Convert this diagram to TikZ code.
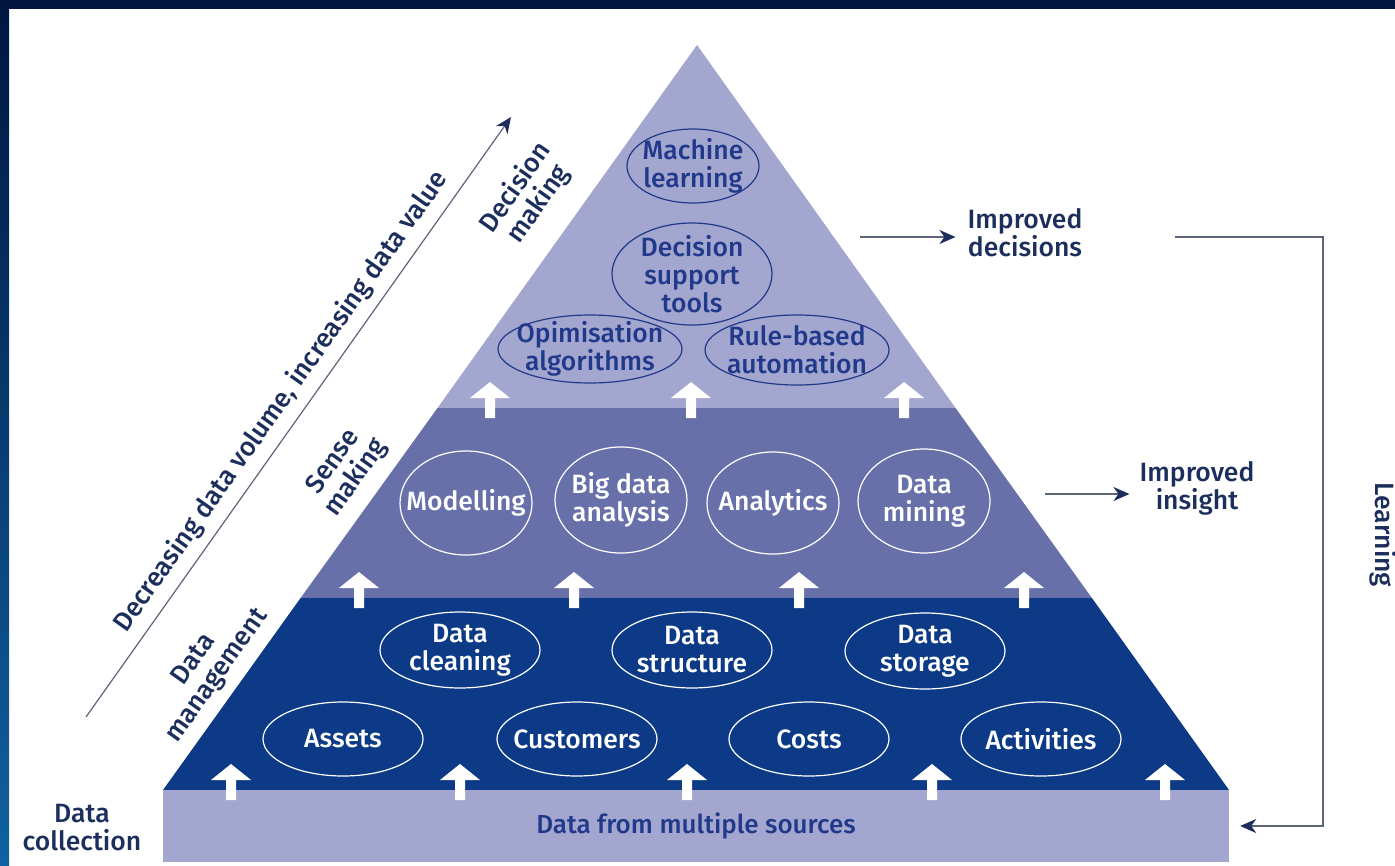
\documentclass[tikz,border=0pt]{standalone}
\usepackage{fontspec}
\setmainfont{Fira Sans}[UprightFont=* Medium]
\newfontfamily\labfont{Fira Sans}[UprightFont=* Medium]
\usetikzlibrary{shapes.geometric,arrows.meta,calc}
\definecolor{tierA}{HTML}{A3A6CF}
\definecolor{tierB}{HTML}{6870AA}
\definecolor{tierC}{HTML}{0C3A86}
\definecolor{navy}{HTML}{21398A}
\definecolor{lbl}{HTML}{1C2E5C}
\definecolor{linegray}{HTML}{5C6478}
\definecolor{framedark}{HTML}{001640}
\definecolor{frameblue}{HTML}{1062A0}
\begin{document}
\begin{tikzpicture}[x=1pt,y=-1pt,
  txt/.style={font=\labfont\fontsize{26.5}{28}\selectfont, align=center, inner sep=0pt},
  ovA/.style={ellipse, draw=navy, line width=1.2pt, inner sep=0pt},
  ovW/.style={ellipse, draw=white, line width=1.2pt, inner sep=0pt},
  tA/.style={txt, text=navy},
  tW/.style={txt, text=white},
  lab/.style={txt, text=lbl},
  conn/.style={draw=linegray, line width=1.4pt},
  navytip/.style={-{Stealth[length=16pt,width=14pt,inset=5pt,color=lbl]}},
  uparr/.pic={\fill[white] (-5,10) -- (-5,-10) -- (-20,-10) -- (0,-26) -- (20,-10) -- (5,-10) -- (5,10) -- cycle;}
]
\useasboundingbox (0,0) rectangle (1395,865);
\fill[white] (0,0) rectangle (1395,865);
% frame
\shade[top color=framedark, bottom color=frameblue] (0,0) rectangle (9,865);
\fill[framedark] (0,0) rectangle (1395,9);

% tiers
\fill[tierA] (697,45) -- (437.5,408) -- (955.5,408) -- cycle;
\fill[tierB] (437.5,408) -- (300.6,598) -- (1091.9,598) -- (955.5,408) -- cycle;
\fill[tierC] (300.6,598) -- (163,790) -- (1229,790) -- (1091.9,598) -- cycle;
\node[fill=tierA, minimum width=1066, minimum height=72, inner sep=0pt,
      font=\labfont\fontsize{26}{28}\selectfont, text=navy] (bar) at (696,826) {Data from multiple sources};

% up arrows
\foreach \x in {490,691,904} \pic at (\x,408) {uparr};
\foreach \x in {359,574,799,1024} \pic at (\x,598) {uparr};
\foreach \x in {231,460,687,932,1165} \pic at (\x,790) {uparr};

% decision making tier
\node[ovA, minimum width=132, minimum height=74, label={[tA]center:Machine\\learning}] (ml) at (693,166) {};
\node[ovA, minimum width=160, minimum height=102, label={[tA]center:Decision\\support\\tools}] (dst) at (692,274) {};
\node[ovA, minimum width=184, minimum height=68, label={[tA]center:Opimisation\\algorithms}] (opt) at (590,349) {};
\node[ovA, minimum width=184, minimum height=70, label={[tA]center:Rule-based\\automation}] (rba) at (797,350) {};

% sense making tier
\node[ovW, minimum width=132, minimum height=104, label={[tW]center:Modelling}] (mod) at (466,503) {};
\node[ovW, minimum width=132, minimum height=106, label={[tW]center:Big data\\analysis}] (bda) at (621,500) {};
\node[ovW, minimum width=132, minimum height=102, label={[tW]center:Analytics}] (ana) at (773,503) {};
\node[ovW, minimum width=132, minimum height=104, label={[tW]center:Data\\mining}] (dmi) at (924,501) {};

% data management tier
\node[ovW, minimum width=160, minimum height=76, label={[tW]center:Data\\cleaning}] (dcl) at (460,650) {};
\node[ovW, minimum width=160, minimum height=76, label={[tW]center:Data\\structure}] (dstr) at (692,650) {};
\node[ovW, minimum width=160, minimum height=76, label={[tW]center:Data\\storage}] (dsto) at (925,651) {};
\node[ovW, minimum width=160, minimum height=74, label={[tW]center:Assets}] (ast) at (343,739) {};
\node[ovW, minimum width=160, minimum height=74, label={[tW]center:Customers}] (cus) at (577,739) {};
\node[ovW, minimum width=160, minimum height=74, label={[tW]center:Costs}] (cos) at (809,739) {};
\node[ovW, minimum width=160, minimum height=74, label={[tW]center:Activities}] (act) at (1041,739) {};

% left diagonal arrow and labels
\coordinate (d0) at (86,717);
\coordinate (d1) at (511,117);
\draw[conn, navytip, line width=1.2pt] (d0) -- (d1);
\node[lab, rotate=54.7] (dec) at (281,402) {Decreasing data volume, increasing data value};
\node[lab, rotate=54.7] (lvl1) at (527,196) {Decision\\making};
\node[lab, rotate=54.7] (lvl2) at (345,470) {Sense\\making};
\node[lab, rotate=54.7] (lvl3) at (206,668) {Data\\management};
\node[lab] (lvl4) at (82,828) {Data\\collection};

% right side outputs
\node[lab] (impdec) at (1025,233) {Improved\\decisions};
\node[lab] (impins) at (1197,488) {Improved\\insight};
\coordinate (a1) at (860,237);
\coordinate (a2) at (1045,494);
\draw[conn, navytip, shorten >=12pt] (a1) -- (a1 -| impdec.west);
\draw[conn, navytip, shorten >=10pt] (a2) -- (a2 -| impins.west);

% learning loop
\coordinate (l0) at (1175,237);
\coordinate (l1) at (1323,237);
\coordinate (l2) at (1323,826);
\draw[conn, navytip, shorten >=11pt] (l0) -- (l1) -- (l2) -- (bar.east);
\node[lab, rotate=-90] (learn) at (1383,535) {Learning};
\end{tikzpicture}
\end{document}
